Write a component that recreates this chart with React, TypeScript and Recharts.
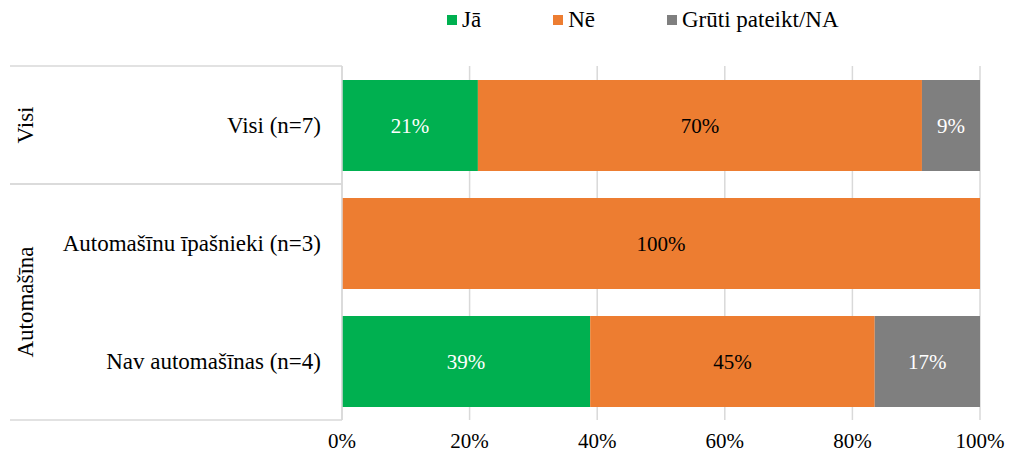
import React from 'react';
import {
  BarChart,
  Bar,
  XAxis,
  YAxis,
  CartesianGrid,
  LabelList,
} from 'recharts';

// Kategorijas un grupas
const categories = ['Visi (n=7)', 'Automašīnu īpašnieki (n=3)', 'Nav automašīnas (n=4)'];
const groupLabels = ['Visi', 'Automašīna'];
const groupOfCategory = [0, 1, 1];

// Sērijas (%)
const seriesNames = ['Jā', 'Nē', 'Grūti pateikt/NA'];
const jaValues = [21.3, 0, 38.9];
const neValues = [69.6, 100, 44.6];
const naValues = [9.1, 0, 16.5];
const xTicks = [0, 20, 40, 60, 80, 100];

const seriesColors = ['#00B050', '#ED7D31', '#7F7F7F'];
const labelColors = ['#ffffff', '#000000', '#ffffff'];

const FONT = '"Liberation Serif", "Times New Roman", serif';
const WIDTH = 1010;
const HEIGHT = 457;
const MARGIN = { top: 66, right: 30, left: 0, bottom: 0 };
const Y_AXIS_WIDTH = 342;
const X_AXIS_HEIGHT = 37;
const BAND = (HEIGHT - MARGIN.top - MARGIN.bottom - X_AXIS_HEIGHT) / categories.length;
const LINE_COLOR = '#d9d9d9';

const data = categories.map((name, i) => ({
  name,
  ja: jaValues[i],
  ne: neValues[i],
  na: naValues[i],
}));

const formatPct = (v: any) => (v ? `${Math.round(Number(v))}%` : '');

// Kreisā puse: kategoriju nosaukumi, grupas un atdalītājlīnijas
const CategoryTick = (props: any) => {
  const { y, payload, index } = props;
  const top = y - BAND / 2;
  const bottom = y + BAND / 2;
  const group = groupOfCategory[index];
  const isFirstInGroup = index === 0 || groupOfCategory[index - 1] !== group;
  const isLastInGroup =
    index === categories.length - 1 || groupOfCategory[index + 1] !== group;
  let groupCenter = y;
  if (isFirstInGroup) {
    const count = groupOfCategory.filter((g) => g === group).length;
    groupCenter = top + (count * BAND) / 2;
  }
  return (
    <g>
      {isFirstInGroup && (
        <line x1={10} x2={Y_AXIS_WIDTH} y1={top} y2={top} stroke={LINE_COLOR} strokeWidth={1.5} />
      )}
      {isLastInGroup && (
        <line x1={10} x2={Y_AXIS_WIDTH} y1={bottom} y2={bottom} stroke={LINE_COLOR} strokeWidth={1.5} />
      )}
      {isFirstInGroup && (
        <text
          x={25}
          y={groupCenter}
          transform={`rotate(-90, 25, ${groupCenter})`}
          textAnchor="middle"
          dominantBaseline="central"
          style={{ fontFamily: FONT }}
          fontSize={23}
          fill="#000"
        >
          {groupLabels[group]}
        </text>
      )}
      <text
        x={321}
        y={y}
        textAnchor="end"
        dominantBaseline="central"
        style={{ fontFamily: FONT }}
        fontSize={23}
        fill="#000"
      >
        {payload.value}
      </text>
    </g>
  );
};

export default function App() {
  return (
    <div
      style={{
        position: 'absolute',
        left: 0,
        top: 0,
        width: WIDTH,
        height: HEIGHT,
        background: '#fff',
        fontFamily: FONT,
      }}
    >
      {/* Leģenda */}
      <div
        style={{
          position: 'absolute',
          top: 5,
          left: 447,
          display: 'flex',
          alignItems: 'center',
          height: 30,
          fontFamily: FONT,
          fontSize: 23,
          color: '#000',
          whiteSpace: 'nowrap',
        }}
      >
        {seriesNames.map((s, i) => (
          <div key={s} style={{ display: 'flex', alignItems: 'center', marginRight: 72 }}>
            <div style={{ width: 10, height: 10, background: seriesColors[i], marginRight: 5 }} />
            <span style={{ fontFamily: FONT }}>{s}</span>
          </div>
        ))}
      </div>

      <BarChart
        width={WIDTH}
        height={HEIGHT}
        data={data}
        layout="vertical"
        margin={MARGIN}
        style={{ fontFamily: FONT }}
      >
        <CartesianGrid horizontal={false} vertical stroke={LINE_COLOR} strokeWidth={1.5} />
        <XAxis
          type="number"
          domain={[0, 100]}
          ticks={xTicks}
          height={X_AXIS_HEIGHT}
          axisLine={false}
          tickLine={false}
          tickMargin={7}
          tickFormatter={(v) => `${v}%`}
          tick={{ fontSize: 21, fill: '#000', style: { fontFamily: FONT } }}
        />
        <YAxis
          type="category"
          dataKey="name"
          width={Y_AXIS_WIDTH}
          axisLine={{ stroke: LINE_COLOR, strokeWidth: 1.5 }}
          tickLine={false}
          tick={<CategoryTick />}
          interval={0}
        />
        {['ja', 'ne', 'na'].map((key, i) => (
          <Bar
            key={key}
            dataKey={key}
            name={seriesNames[i]}
            stackId="a"
            fill={seriesColors[i]}
            barSize={91}
            isAnimationActive={false}
          >
            <LabelList
              dataKey={key}
              position="center"
              formatter={formatPct}
              fill={labelColors[i]}
              fontSize={21}
              style={{ fontFamily: FONT }}
            />
          </Bar>
        ))}
      </BarChart>
    </div>
  );
}
